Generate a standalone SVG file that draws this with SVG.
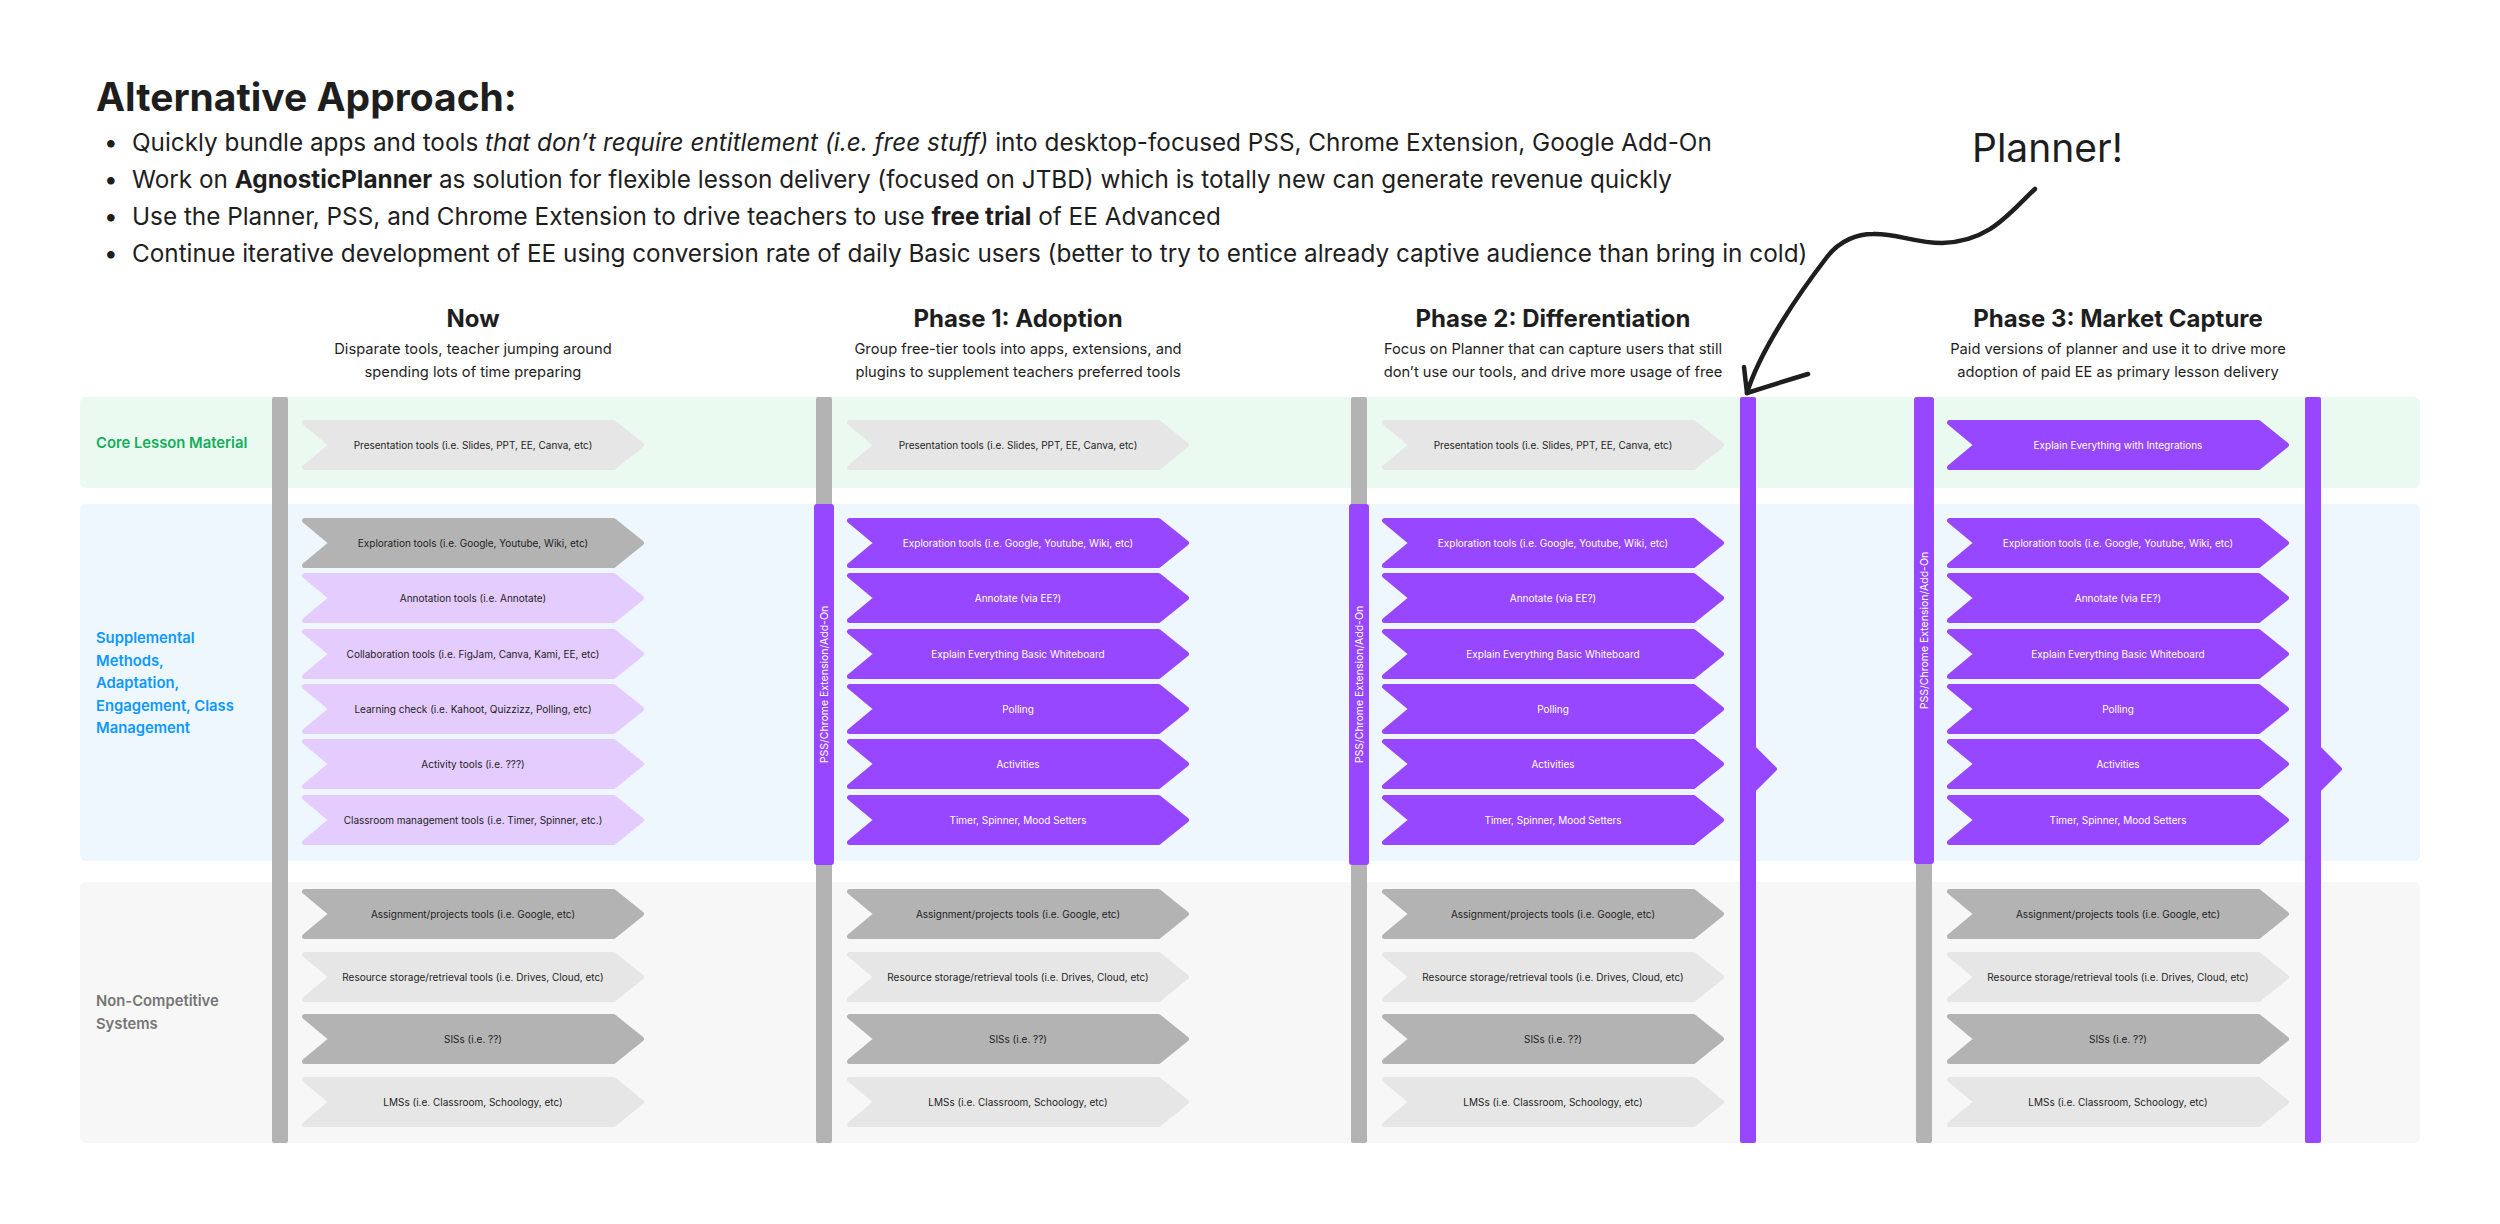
<svg xmlns="http://www.w3.org/2000/svg" xmlns:xlink="http://www.w3.org/1999/xlink" width="2500" height="1224" viewBox="0 0 2500 1224">
<style>
text{font-family:Inter,"Noto Sans","Liberation Sans",sans-serif;fill:#1E1E1E}
.title{font-size:39px;font-weight:700}
.bul{font-size:24.3px}
.b{font-weight:700}
.i{font-style:italic}
.hd{font-size:24px;font-weight:700;text-anchor:middle}
.sub{font-size:14.7px;text-anchor:middle}
.lab{font-size:14.8px;font-weight:600}
.lg{fill:#14AE5C}.lb{fill:#0D99FF}.ln{fill:#757575}
.t{font-size:10px;text-anchor:middle}
.tw{fill:#FFFFFF}
.vt{font-size:10.5px;text-anchor:middle;fill:#FFFFFF}
.c-lg{fill:#E6E6E6;stroke:#E6E6E6}
.c-dg{fill:#B3B3B3;stroke:#B3B3B3}
.c-lp{fill:#E4CCFF;stroke:#E4CCFF}
.c-p{fill:#9747FF;stroke:#9747FF}
.bar-g{fill:#B3B3B3}
.bar-p{fill:#9747FF}
.pt{fill:#9747FF;stroke:#9747FF;stroke-width:4;stroke-linejoin:round}
.ink{fill:none;stroke:#1E1E1E;stroke-width:4.5;stroke-linecap:round;stroke-linejoin:round}
</style>
<defs>
<path id="chev" d="M2.5,2.5 H311.5 L339.5,25 L311.5,47.5 H2.5 L29.5,25 Z" stroke-width="5" stroke-linejoin="round"/>
</defs>
<rect width="2500" height="1224" fill="#FFFFFF"/>

<g id="header">
<text class="title" x="96" y="111">Alternative Approach:</text>
<text class="bul" x="104" y="151">•</text>
<text class="bul" x="132" y="151">Quickly bundle apps and tools <tspan class="i">that don’t require entitlement (i.e. free stuff)</tspan> into desktop-focused PSS, Chrome Extension, Google Add-On</text>
<text class="bul" x="104" y="188">•</text>
<text class="bul" x="132" y="188">Work on <tspan class="b">AgnosticPlanner</tspan> as solution for flexible lesson delivery (focused on JTBD) which is totally new can generate revenue quickly</text>
<text class="bul" x="104" y="225">•</text>
<text class="bul" x="132" y="225">Use the Planner, PSS, and Chrome Extension to drive teachers to use <tspan class="b">free trial</tspan> of EE Advanced</text>
<text class="bul" x="104" y="262">•</text>
<text class="bul" x="132" y="262">Continue iterative development of EE using conversion rate of daily Basic users (better to try to entice already captive audience than bring in cold)</text>
</g>

<g id="planner-label"><text x="1972" y="162" style="font-size:39px">Planner!</text></g>

<g id="bands">
<rect x="80" y="397" width="2340" height="91" rx="6" fill="#EBFAF0"/>
<rect x="80" y="504" width="2340" height="357" rx="6" fill="#EEF6FE"/>
<rect x="80" y="882" width="2340" height="261" rx="6" fill="#F7F7F7"/>
</g>

<g id="row-labels">
<text class="lab lg" x="96" y="448">Core Lesson Material</text>
<text class="lab lb" x="96" y="643">Supplemental</text>
<text class="lab lb" x="96" y="665.5">Methods,</text>
<text class="lab lb" x="96" y="688">Adaptation,</text>
<text class="lab lb" x="96" y="710.5">Engagement, Class</text>
<text class="lab lb" x="96" y="733">Management</text>
<text class="lab ln" x="96" y="1006">Non-Competitive</text>
<text class="lab ln" x="96" y="1029">Systems</text>
</g>

<g id="column-headers">
<text class="hd" x="473" y="327">Now</text>
<text class="sub" x="473" y="354">Disparate tools, teacher jumping around</text>
<text class="sub" x="473" y="377">spending lots of time preparing</text>
<text class="hd" x="1018" y="327">Phase 1: Adoption</text>
<text class="sub" x="1018" y="354">Group free-tier tools into apps, extensions, and</text>
<text class="sub" x="1018" y="377">plugins to supplement teachers preferred tools</text>
<text class="hd" x="1553" y="327">Phase 2: Differentiation</text>
<text class="sub" x="1553" y="354">Focus on Planner that can capture users that still</text>
<text class="sub" x="1553" y="377">don’t use our tools, and drive more usage of free</text>
<text class="hd" x="2118" y="327">Phase 3: Market Capture</text>
<text class="sub" x="2118" y="354">Paid versions of planner and use it to drive more</text>
<text class="sub" x="2118" y="377">adoption of paid EE as primary lesson delivery</text>
</g>

<g id="bar-now"><rect class="bar-g" x="272" y="397" width="16" height="746" rx="2"/></g>
<g id="bar-p1"><rect class="bar-g" x="816" y="397" width="16" height="746" rx="2"/></g>
<g id="bar-p2"><rect class="bar-g" x="1351" y="397" width="16" height="746" rx="2"/></g>
<g id="bar-p3"><rect class="bar-g" x="1916" y="397" width="16" height="746" rx="2"/></g>

<g id="pss-p1"><rect class="bar-p" x="814" y="504" width="20" height="361" rx="3"/><text class="vt" transform="translate(824,684.5) rotate(-90)" x="0" y="3.8">PSS/Chrome Extension/Add-On</text></g>
<g id="pss-p2"><rect class="bar-p" x="1349" y="504" width="20" height="361" rx="3"/><text class="vt" transform="translate(1359,684.5) rotate(-90)" x="0" y="3.8">PSS/Chrome Extension/Add-On</text></g>
<g id="pss-p3"><rect class="bar-p" x="1914" y="397" width="20" height="467" rx="3"/><text class="vt" transform="translate(1924,630.5) rotate(-90)" x="0" y="3.8">PSS/Chrome Extension/Add-On</text></g>

<g id="planner-bar-p2"><rect class="bar-p" x="1740" y="397" width="16" height="746" rx="2"/><path class="pt" d="M1754,748 L1775,769 L1754,790 Z"/></g>
<g id="planner-bar-p3"><rect class="bar-p" x="2305" y="397" width="16" height="746" rx="2"/><path class="pt" d="M2319,748 L2340,769 L2319,790 Z"/></g>

<!-- Now column -->
<g id="now-presentation"><use href="#chev" x="302" y="420" class="c-lg"/><text class="t" x="473" y="448.6">Presentation tools (i.e. Slides, PPT, EE, Canva, etc)</text></g>
<g id="now-exploration"><use href="#chev" x="302" y="518" class="c-dg"/><text class="t" x="473" y="546.6">Exploration tools (i.e. Google, Youtube, Wiki, etc)</text></g>
<g id="now-annotation"><use href="#chev" x="302" y="573" class="c-lp"/><text class="t" x="473" y="601.6">Annotation tools (i.e. Annotate)</text></g>
<g id="now-collaboration"><use href="#chev" x="302" y="629" class="c-lp"/><text class="t" x="473" y="657.6">Collaboration tools (i.e. FigJam, Canva, Kami, EE, etc)</text></g>
<g id="now-learning"><use href="#chev" x="302" y="684" class="c-lp"/><text class="t" x="473" y="712.6">Learning check (i.e. Kahoot, Quizzizz, Polling, etc)</text></g>
<g id="now-activity"><use href="#chev" x="302" y="739" class="c-lp"/><text class="t" x="473" y="767.6">Activity tools (i.e. ???)</text></g>
<g id="now-classroom"><use href="#chev" x="302" y="795" class="c-lp"/><text class="t" x="473" y="823.6">Classroom management tools (i.e. Timer, Spinner, etc.)</text></g>
<g id="now-assignment"><use href="#chev" x="302" y="889" class="c-dg"/><text class="t" x="473" y="917.6">Assignment/projects tools (i.e. Google, etc)</text></g>
<g id="now-resource"><use href="#chev" x="302" y="952" class="c-lg"/><text class="t" x="473" y="980.6">Resource storage/retrieval tools (i.e. Drives, Cloud, etc)</text></g>
<g id="now-sis"><use href="#chev" x="302" y="1014" class="c-dg"/><text class="t" x="473" y="1042.6">SISs (i.e. ??)</text></g>
<g id="now-lms"><use href="#chev" x="302" y="1077" class="c-lg"/><text class="t" x="473" y="1105.6">LMSs (i.e. Classroom, Schoology, etc)</text></g>

<!-- Phase 1 -->
<g id="p1-presentation"><use href="#chev" x="847" y="420" class="c-lg"/><text class="t" x="1018" y="448.6">Presentation tools (i.e. Slides, PPT, EE, Canva, etc)</text></g>
<g id="p1-exploration"><use href="#chev" x="847" y="518" class="c-p"/><text class="t tw" x="1018" y="546.6">Exploration tools (i.e. Google, Youtube, Wiki, etc)</text></g>
<g id="p1-annotate"><use href="#chev" x="847" y="573" class="c-p"/><text class="t tw" x="1018" y="601.6">Annotate (via EE?)</text></g>
<g id="p1-whiteboard"><use href="#chev" x="847" y="629" class="c-p"/><text class="t tw" x="1018" y="657.6">Explain Everything Basic Whiteboard</text></g>
<g id="p1-polling"><use href="#chev" x="847" y="684" class="c-p"/><text class="t tw" x="1018" y="712.6">Polling</text></g>
<g id="p1-activities"><use href="#chev" x="847" y="739" class="c-p"/><text class="t tw" x="1018" y="767.6">Activities</text></g>
<g id="p1-timer"><use href="#chev" x="847" y="795" class="c-p"/><text class="t tw" x="1018" y="823.6">Timer, Spinner, Mood Setters</text></g>
<g id="p1-assignment"><use href="#chev" x="847" y="889" class="c-dg"/><text class="t" x="1018" y="917.6">Assignment/projects tools (i.e. Google, etc)</text></g>
<g id="p1-resource"><use href="#chev" x="847" y="952" class="c-lg"/><text class="t" x="1018" y="980.6">Resource storage/retrieval tools (i.e. Drives, Cloud, etc)</text></g>
<g id="p1-sis"><use href="#chev" x="847" y="1014" class="c-dg"/><text class="t" x="1018" y="1042.6">SISs (i.e. ??)</text></g>
<g id="p1-lms"><use href="#chev" x="847" y="1077" class="c-lg"/><text class="t" x="1018" y="1105.6">LMSs (i.e. Classroom, Schoology, etc)</text></g>

<!-- Phase 2 -->
<g id="p2-presentation"><use href="#chev" x="1382" y="420" class="c-lg"/><text class="t" x="1553" y="448.6">Presentation tools (i.e. Slides, PPT, EE, Canva, etc)</text></g>
<g id="p2-exploration"><use href="#chev" x="1382" y="518" class="c-p"/><text class="t tw" x="1553" y="546.6">Exploration tools (i.e. Google, Youtube, Wiki, etc)</text></g>
<g id="p2-annotate"><use href="#chev" x="1382" y="573" class="c-p"/><text class="t tw" x="1553" y="601.6">Annotate (via EE?)</text></g>
<g id="p2-whiteboard"><use href="#chev" x="1382" y="629" class="c-p"/><text class="t tw" x="1553" y="657.6">Explain Everything Basic Whiteboard</text></g>
<g id="p2-polling"><use href="#chev" x="1382" y="684" class="c-p"/><text class="t tw" x="1553" y="712.6">Polling</text></g>
<g id="p2-activities"><use href="#chev" x="1382" y="739" class="c-p"/><text class="t tw" x="1553" y="767.6">Activities</text></g>
<g id="p2-timer"><use href="#chev" x="1382" y="795" class="c-p"/><text class="t tw" x="1553" y="823.6">Timer, Spinner, Mood Setters</text></g>
<g id="p2-assignment"><use href="#chev" x="1382" y="889" class="c-dg"/><text class="t" x="1553" y="917.6">Assignment/projects tools (i.e. Google, etc)</text></g>
<g id="p2-resource"><use href="#chev" x="1382" y="952" class="c-lg"/><text class="t" x="1553" y="980.6">Resource storage/retrieval tools (i.e. Drives, Cloud, etc)</text></g>
<g id="p2-sis"><use href="#chev" x="1382" y="1014" class="c-dg"/><text class="t" x="1553" y="1042.6">SISs (i.e. ??)</text></g>
<g id="p2-lms"><use href="#chev" x="1382" y="1077" class="c-lg"/><text class="t" x="1553" y="1105.6">LMSs (i.e. Classroom, Schoology, etc)</text></g>

<!-- Phase 3 -->
<g id="p3-ee-integrations"><use href="#chev" x="1947" y="420" class="c-p"/><text class="t tw" x="2118" y="448.6">Explain Everything with Integrations</text></g>
<g id="p3-exploration"><use href="#chev" x="1947" y="518" class="c-p"/><text class="t tw" x="2118" y="546.6">Exploration tools (i.e. Google, Youtube, Wiki, etc)</text></g>
<g id="p3-annotate"><use href="#chev" x="1947" y="573" class="c-p"/><text class="t tw" x="2118" y="601.6">Annotate (via EE?)</text></g>
<g id="p3-whiteboard"><use href="#chev" x="1947" y="629" class="c-p"/><text class="t tw" x="2118" y="657.6">Explain Everything Basic Whiteboard</text></g>
<g id="p3-polling"><use href="#chev" x="1947" y="684" class="c-p"/><text class="t tw" x="2118" y="712.6">Polling</text></g>
<g id="p3-activities"><use href="#chev" x="1947" y="739" class="c-p"/><text class="t tw" x="2118" y="767.6">Activities</text></g>
<g id="p3-timer"><use href="#chev" x="1947" y="795" class="c-p"/><text class="t tw" x="2118" y="823.6">Timer, Spinner, Mood Setters</text></g>
<g id="p3-assignment"><use href="#chev" x="1947" y="889" class="c-dg"/><text class="t" x="2118" y="917.6">Assignment/projects tools (i.e. Google, etc)</text></g>
<g id="p3-resource"><use href="#chev" x="1947" y="952" class="c-lg"/><text class="t" x="2118" y="980.6">Resource storage/retrieval tools (i.e. Drives, Cloud, etc)</text></g>
<g id="p3-sis"><use href="#chev" x="1947" y="1014" class="c-dg"/><text class="t" x="2118" y="1042.6">SISs (i.e. ??)</text></g>
<g id="p3-lms"><use href="#chev" x="1947" y="1077" class="c-lg"/><text class="t" x="2118" y="1105.6">LMSs (i.e. Classroom, Schoology, etc)</text></g>

<g id="connectors">
<path class="ink" d="M2035,189 C2010,212 1990,242 1942,243 C1915,243 1895,233 1873,234 C1858,234 1840,240 1827,257 C1800,292 1760,350 1747,393"/>
<path class="ink" d="M1744,367 L1747,393 Q1775,384 1808,374"/>
</g>
</svg>
